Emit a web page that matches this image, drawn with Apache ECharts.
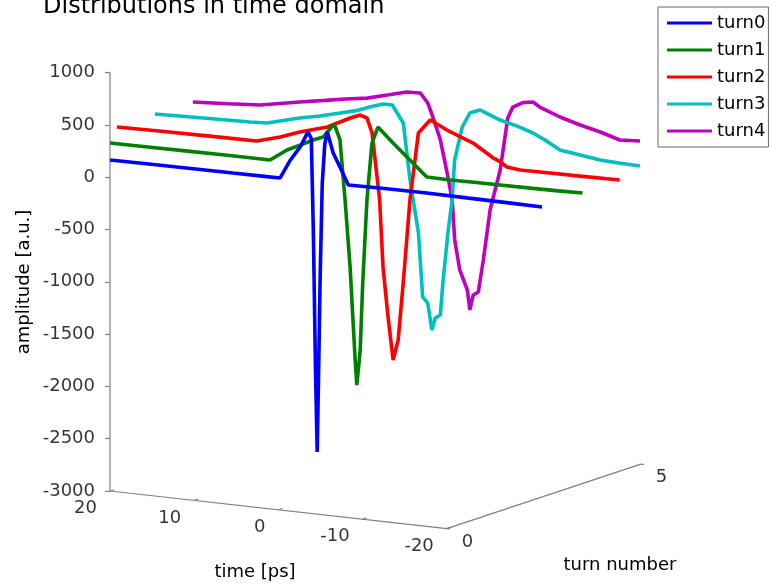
<!DOCTYPE html>
<html><head><meta charset="utf-8">
<script src="https://cdn.jsdelivr.net/npm/echarts@6/dist/echarts.min.js"></script>
<style>html,body{margin:0;padding:0;background:#fff}#c{width:771px;height:587px}</style>
</head><body><div id="c"></div>
<script>
// ---- data (time in ps, amplitude in a.u.) ----
const seriesNames = ['turn0', 'turn1', 'turn2', 'turn3', 'turn4'];
const turnNumber = [1, 2, 3, 4, 5];

const time_turn0 = [24.6, 20, 15, 10, 6, 4.4, 3.2, 2.0, 1.1, 0.7, 0.45, 0.2, 0.0, -0.15, -0.35, -0.6, -0.9, -1.2, -1.9, -2.7, -3.7, -8, -13, -18, -23, -26.7];
const amp_turn0  = [0, 3, 5, 6, 8, 10, 190, 330, 480, 420, -500, -1800, -2570, -1900, -900, 0, 380, 500, 305, 178, 15, 20, 22, 18, 15, 11];

const time_turn1 = [29.2, 25, 20, 15, 10.2, 8.2, 6.6, 5.1, 3.9, 2.6, 1.9, 1.3, 0.7, 0.1, -0.1, -0.5, -0.8, -1.3, -1.9, -2.6, -4.4, -6.4, -8.4, -11.2, -14, -17.1, -21, -24, -26.9];
const amp_turn1  = [-3, 0, 3, 5, 6, 119, 182, 243, 282, 419, 272, -296, -932, -1815, -2053, -1715, -1071, -273, 277, 436, 299, 155, 11, 7, 10, 12, 15, 18, 24];

const time_turn2 = [33, 28, 22, 16.4, 13.6, 11.3, 8, 5.3, 4.1, 3.3, 2.7, 1.8, 1.4, 0.8, 0.2, -0.4, -1, -1.8, -2.8, -4.2, -6.2, -9.3, -11.7, -12.5, -13.3, -14.9, -18.4, -22, -26.7];
const amp_turn2  = [-7, 0, 5, 9, 72, 141, 218, 328, 367, 346, 208, -424, -1061, -1534, -1940, -1743, -1193, -392, 257, 394, 316, 220, 98, 71, 27, 12, 15, 18, 23];

const time_turn3 = [33.1, 27, 21.8, 19.8, 15.9, 13.5, 11.1, 9.2, 7.6, 6, 4.9, 3.6, 2.8, 1.8, 1.3, 0.7, 0.2, -0.2, -0.8, -1.1, -1.7, -2.2, -2.5, -3.4, -4.3, -5.5, -7.9, -10, -11.8, -13.5, -15, -17.4, -19.8, -22, -24.5];
const amp_turn3  = [-7, 8, 18, 27, 110, 150, 201, 240, 290, 333, 333, 172, -365, -863, -1470, -1523, -1776, -1658, -1623, -1316, -832, -511, -126, 197, 338, 379, 304, 262, 215, 150, 81, 55, 29, 20, 13];

const time_turn4 = [33.2, 29, 25.2, 20.5, 17.5, 15.1, 12.5, 10.1, 7.8, 6.2, 5.3, 4.7, 3.8, 2.9, 2.4, 2.1, 1.5, 0.6, 0.3, -0.1, -0.7, -1.3, -2.1, -3.3, -4.2, -4.8, -6, -7.2, -8, -10.4, -12.8, -15.2, -17.5, -19.9];
const amp_turn4  = [-16, 5, 27, 98, 140, 175, 207, 258, 308, 313, 225, 97, -116, -461, -677, -1056, -1337, -1521, -1709, -1562, -1528, -1217, -731, -338, 166, 277, 330, 347, 306, 232, 177, 132, 76, 88];

const ampTicks  = [1000, 500, 0, -500, -1000, -1500, -2000, -2500, -3000];
const timeTicks = [20, 10, 0, -10, -20];
const turnTicks = [0, 5];
const timeLimits = [20, -20];
const turnLimits = [0, 5];
const ampLimits  = [-3000, 1000];

const times = [time_turn0, time_turn1, time_turn2, time_turn3, time_turn4];
const amps  = [amp_turn0, amp_turn1, amp_turn2, amp_turn3, amp_turn4];
const colors = ['#0000FF', '#008000', '#FF0000', '#00BFBF', '#BF00BF'];

// ---- fixed 3D view projection (time, turn, amplitude) -> plane coordinates ----
function proj(t, n, a) {
  const u = timeLimits[0] - t;
  return [110 + u * 8.42 + n * 38.8, 491 + u * 0.94 - n * 12.9 - (a - ampLimits[0]) * 0.1046];
}

const FONT = 'DejaVu Sans';
const series = [];

// data curves
seriesNames.forEach((name, i) => {
  series.push({
    type: 'line', name: name,
    data: times[i].map((t, k) => proj(t, turnNumber[i], amps[i][k])),
    symbol: 'none', showSymbol: false, clip: false,
    lineStyle: { width: 3.6, color: colors[i] },
    itemStyle: { color: colors[i] },
    z: 20 - i, silent: true
  });
});

// box axes
const axisColor = '#808080';
const t0 = timeLimits[0], t1 = timeLimits[1];
const a0 = ampLimits[0], a1 = ampLimits[1];
[[proj(t0, 0, a0), proj(t0, 0, a1)],
 [proj(t0, 0, a0), proj(t1, 0, a0)],
 [proj(t1, turnLimits[0], a0), proj(t1, turnLimits[1], a0)]].forEach(seg => {
  series.push({ type: 'line', data: seg, symbol: 'none', silent: true, clip: false,
    lineStyle: { color: axisColor, width: 1.2 }, z: 2 });
});

// tick marks
const tickSegs = [];
ampTicks.forEach(a => { const p = proj(t0, 0, a); tickSegs.push({ coords: [p, [p[0] - 5, p[1]]] }); });
timeTicks.forEach(t => tickSegs.push({ coords: [proj(t, 0, a0), proj(t, 0.1, a0)] }));
turnTicks.forEach(n => tickSegs.push({ coords: [proj(t1, n, a0), proj(t1 - 0.4, n, a0)] }));
series.push({ type: 'lines', coordinateSystem: 'cartesian2d', data: tickSegs, silent: true,
  lineStyle: { color: axisColor, width: 1.2, opacity: 1 }, z: 2 });

// tick labels
function labelSeries(points, texts, align, offset) {
  return {
    type: 'scatter', symbolSize: 0, silent: true, z: 3,
    data: points.map((p, i) => ({ value: p, label: { formatter: String(texts[i]) } })),
    label: { show: true, position: 'inside', align: align, verticalAlign: 'middle', offset: offset,
      color: '#000', fontSize: 18, fontFamily: FONT }
  };
}
series.push(labelSeries(ampTicks.map(a => proj(t0, 0, a)), ampTicks, 'right', [-15, 0]));
series.push(labelSeries(timeTicks.map(t => proj(t, 0, a0)), timeTicks, 'right', [-13, 17.5]));
series.push(labelSeries(turnTicks.map(n => proj(t1, n, a0)), turnTicks, 'left', [15, 13.5]));

const chart = echarts.init(document.getElementById('c'), null, { renderer: 'canvas' });
chart.setOption({
  animation: false,
  backgroundColor: '#fff',
  textStyle: { fontFamily: FONT },
  grid: { left: 0, right: 0, top: 0, bottom: 0 },
  xAxis: { type: 'value', min: 0, max: 771, show: false },
  yAxis: { type: 'value', min: 0, max: 587, inverse: true, show: false },
  legend: {
    data: seriesNames, orient: 'vertical', left: 658, top: 7,
    icon: 'rect', itemWidth: 45, itemHeight: 3, itemGap: 9,
    padding: [7, 3, 7, 9],
    borderColor: '#666', borderWidth: 1, backgroundColor: '#fff',
    textStyle: { fontSize: 18, fontFamily: FONT, color: '#000' },
    selectedMode: false
  },
  graphic: [
    { type: 'text', left: 43, top: -5, style: { text: 'Distributions in time domain', font: '24px "DejaVu Sans"', fill: '#000' } },
    { type: 'text', x: 24, y: 282, rotation: Math.PI / 2,
      style: { text: 'amplitude [a.u.]', font: '18px "DejaVu Sans"', fill: '#000', align: 'center', verticalAlign: 'middle' } },
    { type: 'text', x: 255, y: 572,
      style: { text: 'time [ps]', font: '18px "DejaVu Sans"', fill: '#000', align: 'center', verticalAlign: 'middle' } },
    { type: 'text', x: 620, y: 565,
      style: { text: 'turn number', font: '18px "DejaVu Sans"', fill: '#000', align: 'center', verticalAlign: 'middle' } }
  ],
  series: series
});
</script></body></html>
